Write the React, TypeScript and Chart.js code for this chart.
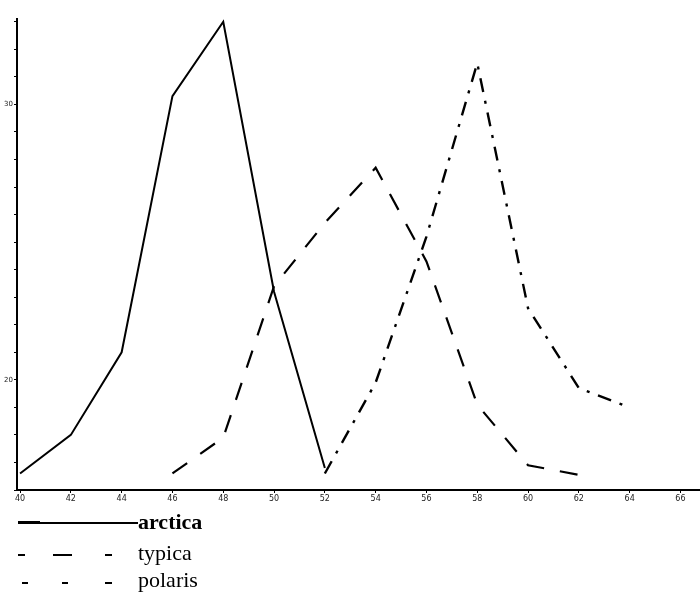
import React, { useEffect, useRef } from 'react';
import { Chart, registerables } from 'chart.js';

Chart.register(...registerables);

// x axis tick values and y axis labelled values
const X_TICKS = [40, 42, 44, 46, 48, 50, 52, 54, 56, 58, 60, 62, 64, 66];
const Y_TICKS = [16, 17, 18, 19, 20, 21, 22, 23, 24, 25, 26, 27, 28, 29, 30, 31, 32, 33];
const Y_LABELLED = [20, 30];

// series
const ARCTICA_X = [40, 42, 44, 46, 48, 50, 52];
const ARCTICA_Y = [16.6, 18.0, 21.0, 30.3, 33.0, 23.2, 16.8];

const TYPICA_X = [46, 48, 50, 52, 54, 56, 58, 60, 62];
const TYPICA_Y = [16.6, 17.9, 23.4, 25.7, 27.7, 24.3, 19.1, 16.9, 16.55];

const POLARIS_X = [52, 54, 56, 58, 60, 62, 64];
const POLARIS_Y = [16.6, 19.9, 25.2, 31.5, 22.6, 19.7, 19.0];

const zip = (xs: number[], ys: number[]) => xs.map((x, i) => ({ x, y: ys[i] }));

export default function App() {
  const ref = useRef<HTMLCanvasElement | null>(null);

  useEffect(() => {
    if (!ref.current) return;
    const chart = new Chart(ref.current, {
      type: 'line',
      data: {
        datasets: [
          {
            label: 'arctica',
            data: zip(ARCTICA_X, ARCTICA_Y),
            borderColor: '#000',
            borderWidth: 2,
            pointRadius: 0,
            tension: 0,
            fill: false,
          },
          {
            label: 'typica',
            data: zip(TYPICA_X, TYPICA_Y),
            borderColor: '#000',
            borderWidth: 2.2,
            borderDash: [18, 16],
            pointRadius: 0,
            tension: 0,
            fill: false,
          },
          {
            label: 'polaris',
            data: zip(POLARIS_X, POLARIS_Y),
            borderColor: '#000',
            borderWidth: 2.4,
            borderDash: [14, 9, 3, 9],
            pointRadius: 0,
            tension: 0,
            fill: false,
          },
        ],
      },
      options: {
        responsive: false,
        animation: false,
        layout: { padding: { top: 19, right: 0, left: 0, bottom: 0 } },
        plugins: {
          legend: { display: false },
          tooltip: { enabled: false },
        },
        scales: {
          x: {
            type: 'linear',
            min: 39.88,
            max: 66.77,
            afterBuildTicks: (s: any) => {
              s.ticks = X_TICKS.map((v) => ({ value: v }));
            },
            afterFit: (s: any) => {
              s.height = 20;
            },
            ticks: {
              autoSkip: false,
              maxRotation: 0,
              padding: 1,
              color: '#222',
              font: { size: 8, family: 'DejaVu Sans' },
              callback: (v: any) => String(v),
            },
            grid: { drawOnChartArea: false, tickLength: 3, color: '#000' },
            border: { color: '#000', width: 2 },
          },
          y: {
            type: 'linear',
            min: 16,
            max: 33.1,
            afterBuildTicks: (s: any) => {
              s.ticks = Y_TICKS.map((v) => ({ value: v }));
            },
            afterFit: (s: any) => {
              s.width = 17;
            },
            ticks: {
              autoSkip: false,
              padding: 1,
              color: '#222',
              font: { size: 7, family: 'DejaVu Sans' },
              callback: (v: any) => (Y_LABELLED.includes(Number(v)) ? String(v) : ''),
            },
            grid: { drawOnChartArea: false, tickLength: 3, color: '#000' },
            border: { color: '#000', width: 2 },
          },
        },
      },
    });
    return () => chart.destroy();
  }, []);

  const serif = '"Liberation Serif", "Times New Roman", serif';
  const dash = (left: number, top: number, w: number) => (
    <div style={{ position: 'absolute', left, top, width: w, height: 2, background: '#000' }} />
  );

  return (
    <div style={{ position: 'absolute', left: 0, top: 0, width: 700, height: 596, background: '#fff', overflow: 'hidden' }}>
      <canvas ref={ref} width={700} height={510} style={{ display: 'block', width: 700, height: 510 }} />
      {/* legend */}
      <div style={{ position: 'absolute', left: 18, top: 521, width: 22, height: 3, background: '#000' }} />
      <div style={{ position: 'absolute', left: 38, top: 522, width: 100, height: 2, background: '#000' }} />
      <span style={{ position: 'absolute', left: 138, top: 511, fontFamily: serif, fontWeight: 'bold', fontSize: 22, lineHeight: '22px' }}>arctica</span>
      {dash(18, 554, 7)}
      {dash(53, 554, 19)}
      {dash(105, 554, 7)}
      <span style={{ position: 'absolute', left: 138, top: 542, fontFamily: serif, fontSize: 22, lineHeight: '22px' }}>typica</span>
      {dash(22, 582, 6)}
      {dash(62, 582, 6)}
      {dash(105, 582, 7)}
      <span style={{ position: 'absolute', left: 138, top: 569, fontFamily: serif, fontSize: 22, lineHeight: '22px' }}>polaris</span>
    </div>
  );
}
